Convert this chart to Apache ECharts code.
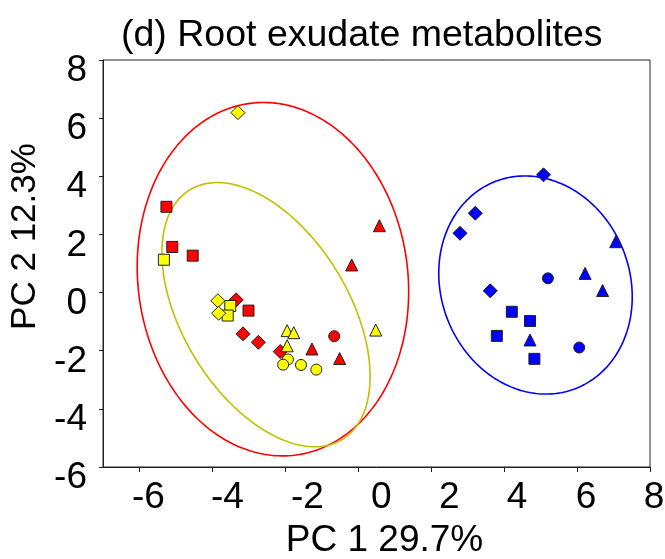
<!DOCTYPE html>
<html><head><meta charset="utf-8">
<script src="https://cdn.jsdelivr.net/npm/echarts@6/dist/echarts.min.js"></script>
<style>html,body{margin:0;padding:0;background:#fff}#c{width:665px;height:559px}</style>
</head><body><div id="c"></div>
<script>
// ---- text ----
const titleText = '(d) Root exudate metabolites';
const xName = 'PC 1 29.7%';
const yName = 'PC 2 12.3%';
const xTicks = [-6, -4, -2, 0, 2, 4, 6, 8];
const yTicks = [-6, -4, -2, 0, 2, 4, 6, 8];

// ---- data (PC1, PC2) ----
const redSquares   = [[-5.26, 2.95], [-5.10, 1.57], [-4.54, 1.27], [-3.01, -0.62]];
const redDiamonds  = [[-3.35, -0.25], [-3.16, -1.42], [-2.74, -1.71], [-2.14, -2.03]];
const redTriangles = [[0.58, 2.30], [-0.18, 0.95], [-1.27, -1.94], [-0.51, -2.27]];
const redCircles   = [[-0.66, -1.50]];

const yelSquares   = [[-5.33, 1.13], [-3.51, -0.46], [-3.58, -0.79]];
const yelDiamonds  = [[-3.30, 6.19], [-3.85, -0.28], [-3.83, -0.71]];
const yelTriangles = [[-1.95, -1.31], [-1.77, -1.38], [-1.95, -1.83], [0.48, -1.29]];
const yelCircles   = [[-1.93, -2.30], [-2.06, -2.48], [-1.57, -2.49], [-1.15, -2.65]];

const bluDiamonds  = [[5.08, 4.05], [3.21, 2.73], [2.79, 2.04], [3.62, 0.06]];
const bluTriangles = [[7.06, 1.75], [6.22, 0.66], [6.70, 0.07], [4.71, -1.63]];
const bluCircles   = [[5.20, 0.49], [6.06, -1.89]];
const bluSquares   = [[4.21, -0.66], [4.71, -0.98], [3.80, -1.49], [4.83, -2.28]];

// confidence ellipses: [centerX, centerY, semiAxisA (x units), semiAxisB (y units), tilt deg]
const ellipseRed    = [-2.34, 0.46, 3.70, 6.10, 7.4];
const ellipseYellow = [-2.53, -0.76, 2.28, 5.03, 31.4];
const ellipseBlue   = [4.86, 0.26, 2.59, 3.82, 21.0];

// ---- styles ----
const FONT = 'Liberation Sans, Arial, sans-serif';
const FS = 37;
const RED = '#ff0000', YEL = '#ffff00', BLU = '#0000ff', YEL_LINE = '#c0c000';
const xLabelShift = [9, 15, 22, 23, 18, 13, 9, 4];

const xRich = {};
xLabelShift.forEach((s, i) => {
  xRich['p' + i] = { fontSize: FS, fontFamily: FONT, color: '#000', padding: [0, 0, 0, 2 * s] };
});

function ellipseRender(params, api) {
  const c = api.coord([api.value(0), api.value(1)]);
  const sx = api.size([1, 0])[0];
  const sy = api.size([0, 1])[1];
  const a = api.value(2) * sx, b = api.value(3) * sy;
  const th = api.value(4) * Math.PI / 180;
  const pts = [];
  const n = 240;
  for (let i = 0; i <= n; i++) {
    const t = i / n * 2 * Math.PI;
    const x = a * Math.cos(t), y = b * Math.sin(t);
    pts.push([c[0] + x * Math.cos(th) - y * Math.sin(th),
              c[1] - (x * Math.sin(th) + y * Math.cos(th))]);
  }
  return { type: 'polyline', shape: { points: pts },
    style: { stroke: api.visual('color'), fill: null, lineWidth: 1.6 }, silent: true };
}

function ell(data, color) {
  return { type: 'custom', renderItem: ellipseRender, data: [data], z: 1,
    itemStyle: { color: color }, encode: { x: 0, y: 1 }, silent: true, clip: false };
}
function sc(data, symbol, size, color) {
  return { type: 'scatter', data: data, symbol: symbol, symbolSize: size, z: 3,
    itemStyle: { color: color, borderColor: '#222', borderWidth: 1, opacity: 1 } };
}

const chart = echarts.init(document.getElementById('c'), null, { renderer: 'canvas' });
chart.setOption({
  animation: false,
  backgroundColor: '#fff',
  title: {
    text: titleText, left: 116, top: 12,
    textStyle: { fontSize: 37.5, fontWeight: 'normal', fontFamily: FONT, color: '#000' }
  },
  grid: { left: 103, right: 15, top: 60, bottom: 92, containLabel: false, outerBoundsMode: 'none',
    show: true, borderColor: '#222', borderWidth: 1 },
  xAxis: {
    type: 'value', min: -7, max: 8,
    name: xName, nameLocation: 'middle', nameGap: 55,
    nameTextStyle: { fontSize: FS, fontFamily: FONT, color: '#000', padding: [0, 0, 0, 16] },
    axisLine: { show: true, onZero: false, lineStyle: { color: '#222', width: 1 } },
    axisTick: { show: true, inside: false, length: 5, customValues: xTicks, lineStyle: { color: '#222' } },
    axisLabel: {
      customValues: xTicks, margin: 12, fontSize: FS, fontFamily: FONT, color: '#000',
      formatter: v => '{p' + xTicks.indexOf(v) + '|' + v + '}', rich: xRich
    },
    splitLine: { show: false }
  },
  yAxis: {
    type: 'value', min: -6, max: 8, interval: 2,
    name: yName, nameLocation: 'middle', nameGap: 46, nameRotate: 90,
    nameTextStyle: { fontSize: 35, fontFamily: FONT, color: '#000', padding: [0, 0, 0, 54] },
    axisLine: { show: true, onZero: false, lineStyle: { color: '#222', width: 1 } },
    axisTick: { show: true, inside: false, length: 4, lineStyle: { color: '#222' } },
    axisLabel: { customValues: yTicks, margin: 16, fontSize: FS, fontFamily: FONT, color: '#000',
      verticalAlign: 'top', lineHeight: 22 },
    splitLine: { show: false }
  },
  series: [
    ell(ellipseRed, RED),
    ell(ellipseYellow, YEL_LINE),
    ell(ellipseBlue, BLU),
    sc(redSquares, 'rect', 11, RED),
    sc(redDiamonds, 'diamond', 14, RED),
    sc(redTriangles, 'triangle', 12, RED),
    sc(redCircles, 'circle', 11, RED),
    sc(yelSquares, 'rect', 11, YEL),
    sc(yelDiamonds, 'diamond', 14, YEL),
    sc(yelTriangles, 'triangle', 12, YEL),
    sc(yelCircles, 'circle', 11, YEL),
    sc(bluDiamonds, 'diamond', 14, BLU),
    sc(bluTriangles, 'triangle', 12, BLU),
    sc(bluCircles, 'circle', 11, BLU),
    sc(bluSquares, 'rect', 11, BLU)
  ]
});
</script></body></html>
